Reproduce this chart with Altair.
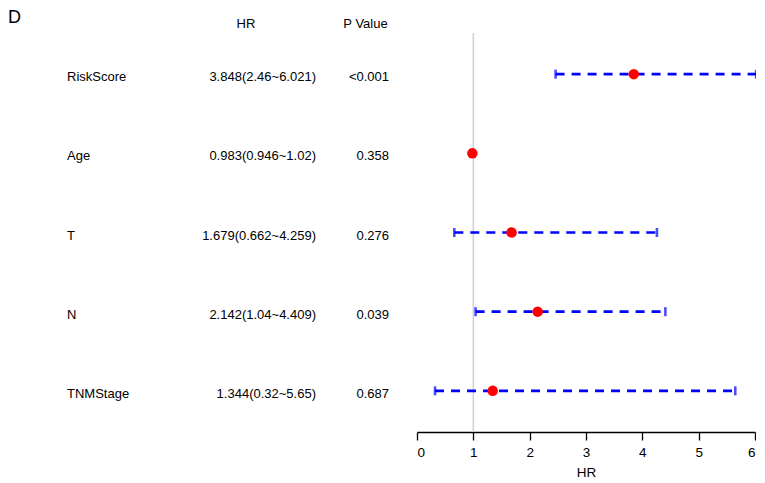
import altair as alt
import pandas as pd

variables = ["RiskScore", "Age", "T", "N", "TNMStage"]
hr = [3.848, 0.983, 1.679, 2.142, 1.344]
lower = [2.46, 0.946, 0.662, 1.04, 0.32]
upper = [6.021, 1.02, 4.259, 4.409, 5.65]
hr_text = ["3.848(2.46~6.021)", "0.983(0.946~1.02)", "1.679(0.662~4.259)",
           "2.142(1.04~4.409)", "1.344(0.32~5.65)"]
p_text = ["<0.001", "0.358", "0.276", "0.039", "0.687"]
x_ticks = [0, 1, 2, 3, 4, 5, 6]
ref_line = [1]

df = pd.DataFrame({
    "row": list(range(1, len(variables) + 1)),
    "var": variables,
    "hr": hr,
    "lo": lower,
    "hi": upper,
    "hrt": hr_text,
    "pt": p_text,
})

W, H = 338, 399
FONT = "Liberation Sans"
BLUE = "#0000FF"
RED = "#FF0000"

xscale = alt.Scale(domain=[0, 6], nice=False, zero=False)
yscale = alt.Scale(domain=[0.48, 5.52], reverse=True, nice=False, zero=False)

x_axis = alt.Axis(values=x_ticks, grid=False, domainColor="black", domainWidth=1.3,
                  tickColor="black", tickWidth=1.3, tickSize=8, labelFontSize=13.5,
                  labelColor="black", labelPadding=5, title="HR", titleFontSize=13.5,
                  titleFontWeight="normal", titleColor="black", titlePadding=7,
                  labelFont=FONT, titleFont=FONT)

base = alt.Chart(df)

ref = alt.Chart(pd.DataFrame({"v": ref_line})).mark_rule(
    color="#d0d0d0", strokeWidth=1.5
).encode(
    x=alt.X("v:Q", scale=xscale, axis=x_axis),
    y=alt.value(0), y2=alt.value(H),
)

ci = base.mark_rule(color=BLUE, strokeWidth=2.6, strokeDash=[9, 7]).encode(
    x=alt.X("lo:Q", scale=xscale, axis=x_axis),
    x2="hi:Q",
    y=alt.Y("row:Q", scale=yscale, axis=None),
)

cap_lo = base.mark_tick(color=BLUE, orient="vertical", size=9, thickness=2.6).encode(
    x=alt.X("lo:Q", scale=xscale, axis=x_axis),
    y=alt.Y("row:Q", scale=yscale, axis=None),
)
cap_hi = base.mark_tick(color=BLUE, orient="vertical", size=9, thickness=2.6).encode(
    x=alt.X("hi:Q", scale=xscale, axis=x_axis),
    y=alt.Y("row:Q", scale=yscale, axis=None),
)

pts = base.mark_point(filled=True, color=RED, size=110, opacity=1).encode(
    x=alt.X("hr:Q", scale=xscale, axis=x_axis),
    y=alt.Y("row:Q", scale=yscale, axis=None),
)

lbl = base.mark_text(align="left", baseline="middle", fontSize=13, font=FONT,
                     color="black", dy=3).encode(
    x=alt.value(-350),
    y=alt.Y("row:Q", scale=yscale, axis=None),
    text="var:N",
)
hrt = base.mark_text(align="right", baseline="middle", fontSize=13, font=FONT,
                     color="black", dy=3).encode(
    x=alt.value(-101),
    y=alt.Y("row:Q", scale=yscale, axis=None),
    text="hrt:N",
)
pt = base.mark_text(align="right", baseline="middle", fontSize=13, font=FONT,
                    color="black", dy=3).encode(
    x=alt.value(-28),
    y=alt.Y("row:Q", scale=yscale, axis=None),
    text="pt:N",
)

hdr_hr = alt.Chart(pd.DataFrame({"t": ["HR"]})).mark_text(
    align="center", baseline="middle", fontSize=13, font=FONT, color="black"
).encode(x=alt.value(-171), y=alt.value(-9), text="t:N")
hdr_p = alt.Chart(pd.DataFrame({"t": ["P Value"]})).mark_text(
    align="center", baseline="middle", fontSize=13, font=FONT, color="black"
).encode(x=alt.value(-51.5), y=alt.value(-9), text="t:N")
panel = alt.Chart(pd.DataFrame({"t": ["D"]})).mark_text(
    align="left", baseline="top", fontSize=18, font=FONT, color="black"
).encode(x=alt.value(-409), y=alt.value(-24), text="t:N")

chart = alt.layer(ref, ci, cap_lo, cap_hi, pts, lbl, hrt, pt, hdr_hr, hdr_p, panel).properties(
    width=W, height=H,
    autosize=alt.AutoSizeParams(type="none"),
    padding={"left": 409, "top": 25, "right": 1, "bottom": 48},
).configure_view(stroke=None)

chart.save("out.html", embed_options={"renderer": "svg", "actions": False})
